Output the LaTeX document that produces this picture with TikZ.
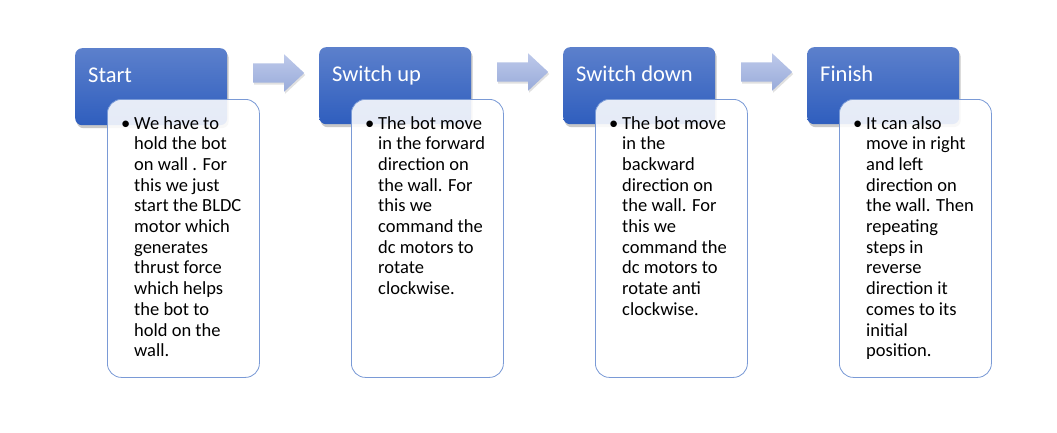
\documentclass[tikz,border=0pt]{standalone}
\usepackage{fontspec}
\setmainfont{Carlito}
\usetikzlibrary{shapes.arrows,shadows}
\definecolor{blockTop}{RGB}{92,128,204}
\definecolor{blockBot}{RGB}{47,94,190}
\definecolor{boxLine}{RGB}{122,154,214}
\definecolor{arrTop}{RGB}{190,201,234}
\definecolor{arrBot}{RGB}{152,171,218}
\newcommand{\desc}[1]{\parbox[t]{140pt}{\fontsize{18.5}{20.7}\selectfont\raggedright #1}}
\begin{document}
\begin{tikzpicture}[x=1pt,y=-1pt,
  titlebox/.style={rectangle, rounded corners=7pt, minimum width=152pt, minimum height=77pt,
    top color=blockTop, bottom color=blockBot, draw=none, anchor=north west, inner sep=0,
    drop shadow={shadow xshift=1.5pt,shadow yshift=-3pt,opacity=0.3,fill=black!70}},
  titletext/.style={anchor=base west, text=white, font=\fontsize{22.5}{26}\selectfont, inner sep=0},
  descbox/.style={rectangle, rounded corners=14pt, minimum width=152pt, minimum height=278pt,
    fill=white, fill opacity=0.88, draw=boxLine, line width=0.8pt, anchor=north west, inner sep=0},
  desctext/.style={anchor=base west, inner sep=0, text=black},
  bulletmark/.style={anchor=base west, inner sep=0, font=\fontsize{18.5}{20.7}\selectfont},
  flowarrow/.style={single arrow, minimum height=51pt, inner xsep=0pt, inner ysep=9.5pt,
    single arrow head extend=9pt, single arrow tip angle=86, top color=arrTop, bottom color=arrBot,
    draw=none, drop shadow={shadow xshift=1pt,shadow yshift=-2pt,opacity=0.2,fill=black!60}}]
\useasboundingbox (0,0) rectangle (1057,432);
\fill[white] (0,0) rectangle (1057,432);

% title blocks
\node[titlebox] (b1) at (75,48) {};
\node[titlebox] (b2) at (319,47) {};
\node[titlebox] (b3) at (563,47) {};
\node[titlebox] (b4) at (807,47) {};
\node[titletext] (t1) at (88,82) {Start};
\node[titletext] (t2) at (332,81) {Switch up};
\node[titletext] (t3) at (576,81) {Switch down};
\node[titletext] (t4) at (820,81) {Finish};

% arrows
\node[flowarrow] (a1) at (273.5,73) {};
\node[flowarrow] (a2) at (517.5,72) {};
\node[flowarrow] (a3) at (761.5,72) {};

% description boxes
\node[descbox] (d1) at (107,99) {};
\node[descbox] (d2) at (351,99) {};
\node[descbox] (d3) at (595,99) {};
\node[descbox] (d4) at (839,99) {};

\node[bulletmark] (p1) at (121,129) {\textbullet};
\node[bulletmark] (p2) at (365,129) {\textbullet};
\node[bulletmark] (p3) at (609,129) {\textbullet};
\node[bulletmark] (p4) at (853,129) {\textbullet};

\node[desctext] (x1) at (134,129) {\desc{We have to\\hold the bot\\on wall . For\\this we just\\start the BLDC\\motor which\\generates\\thrust force\\which helps\\the bot to\\hold on the\\wall.}};
\node[desctext] (x2) at (378,129) {\desc{The bot move\\in the forward\\direction on\\the wall. For\\this we\\command the\\dc motors to\\rotate\\clockwise.}};
\node[desctext] (x3) at (622,129) {\desc{The bot move\\in the\\backward\\direction on\\the wall. For\\this we\\command the\\dc motors to\\rotate anti\\clockwise.}};
\node[desctext] (x4) at (866,129) {\desc{It can also\\move in right\\and left\\direction on\\the wall. Then\\repeating\\steps in\\reverse\\direction it\\comes to its\\initial\\position.}};
\end{tikzpicture}
\end{document}
